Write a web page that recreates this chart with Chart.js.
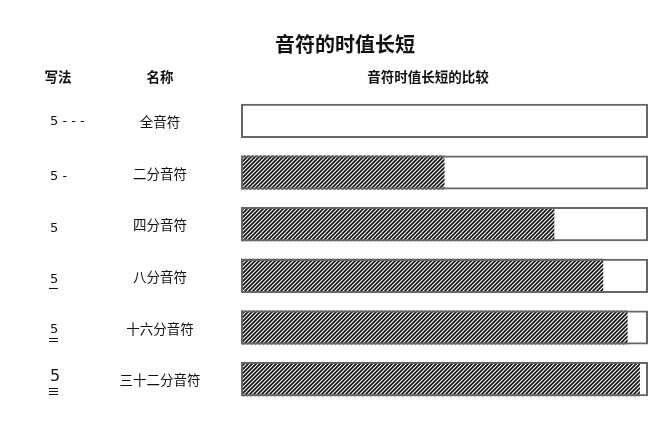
<!DOCTYPE html>
<html><head><meta charset="utf-8">
<script src="https://cdn.jsdelivr.net/npm/chart.js@4/dist/chart.umd.min.js"></script>
<style>html,body{margin:0;padding:0;background:#fff}#wrap{width:664px;height:429px}</style>
</head><body><div id="wrap"><canvas id="c" width="664" height="429"></canvas></div>
<script>
const title = '音符的时值长短';
const headers = ['写法', '名称', '音符时值长短的比较'];
const notations = ['5 - - -', '5 -', '5', '5', '5', '5'];
const underlines = [0, 0, 0, 1, 2, 3];
const names = ['全音符', '二分音符', '四分音符', '八分音符', '十六分音符', '三十二分音符'];
const filled = [0, 0.5, 0.77, 0.89, 0.95, 0.98];
const totals = [1, 1, 1, 1, 1, 1];

function makeHatch() {
  const p = document.createElement('canvas');
  p.width = 4; p.height = 4;
  const g = p.getContext('2d');
  g.fillStyle = '#fff'; g.fillRect(0, 0, 4, 4);
  g.strokeStyle = '#111'; g.lineWidth = 1.7;
  g.beginPath();
  g.moveTo(0, 4); g.lineTo(4, 0);
  g.moveTo(-1, 1); g.lineTo(1, -1);
  g.moveTo(3, 5); g.lineTo(5, 3);
  g.stroke();
  return g.createPattern(p, 'repeat');
}
const ctx0 = document.getElementById('c').getContext('2d');
const hatch = makeHatch();

const textPlugin = {
  id: 'texts',
  afterDraw(chart) {
    const ctx = chart.ctx, ys = chart.scales.y;
    ctx.save();
    ctx.fillStyle = '#111';
    ctx.textBaseline = 'middle';
    ctx.textAlign = 'center';
    ctx.font = 'bold 20px "Noto Sans CJK SC"';
    ctx.fillText(title, 345, 44);
    ctx.font = 'bold 13.5px "Noto Sans CJK SC"';
    ctx.fillText(headers[0], 58, 77);
    ctx.fillText(headers[1], 160, 77);
    ctx.fillText(headers[2], 428, 77);
    ctx.font = '13.5px "Noto Sans CJK SC"';
    names.forEach((n, i) => {
      ctx.fillText(n, 160, ys.getPixelForValue(i) + 1);
    });
    ctx.textAlign = 'left';
    notations.forEach((n, i) => {
      const y = ys.getPixelForValue(i);
      const big = i === 5;
      ctx.font = (big ? '16px' : '13px') + ' "DejaVu Sans", sans-serif';
      const dy = [1, 4, 4, 4, 2, -2][i];
      ctx.fillText(n, 50, y + dy);
      ctx.strokeStyle = '#111'; ctx.lineWidth = 1;
      for (let k = 0; k < underlines[i]; k++) {
        const ly = Math.round(y + dy + (big ? 11 : 8) + k * 3) + 0.5;
        ctx.beginPath(); ctx.moveTo(49, ly); ctx.lineTo(58, ly); ctx.stroke();
      }
    });
    ctx.restore();
  }
};

new Chart(ctx0, {
  type: 'bar',
  data: {
    labels: names,
    datasets: [
      { label: '框', data: totals, backgroundColor: 'rgba(255,255,255,0)', borderColor: '#666', borderWidth: 2, grouped: false, order: 0, borderSkipped: false },
      { label: '时值', data: filled, backgroundColor: hatch, borderWidth: 0, grouped: false, order: 1 }
    ]
  },
  options: {
    indexAxis: 'y',
    responsive: false,
    animation: false,
    events: [],
    barPercentage: 0.66,
    categoryPercentage: 1,
    layout: { padding: { left: 241, right: 16, top: 95, bottom: 24 } },
    scales: {
      x: { display: false, min: 0, max: 1 },
      y: { display: false }
    },
    plugins: { legend: { display: false }, tooltip: { enabled: false }, title: { display: false } }
  },
  plugins: [textPlugin]
});
</script></body></html>
